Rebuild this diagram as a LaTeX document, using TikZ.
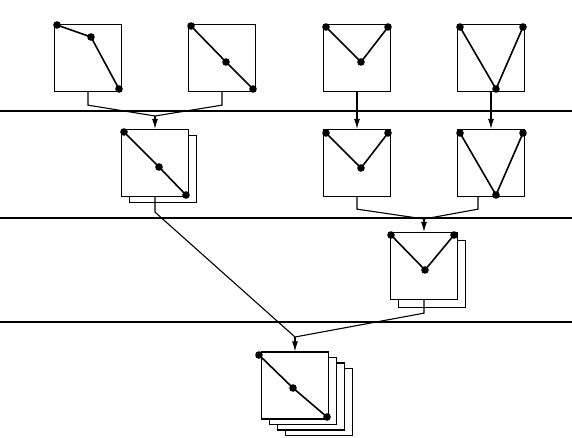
\documentclass[tikz,border=0pt]{standalone}
\usetikzlibrary{arrows.meta}

\tikzset{
  tile/.style={draw, fill=white, line width=1.3pt, minimum size=67pt, inner sep=0pt},
  wire/.style={line width=1.6pt},
  link/.style={line width=1.1pt},
  feed/.style={line width=1.1pt, -{Latex[length=10pt,width=6pt]}},
  level/.style={line width=1.1pt}
}

% polyline through three points, with a dot on each
\newcommand{\tilechain}[3]{%
  \draw[wire] (#1) -- (#2) -- (#3);
  \fill (#1) circle (3.8pt) (#2) circle (3.8pt) (#3) circle (3.8pt);}

\begin{document}
\begin{tikzpicture}
\useasboundingbox (0pt,0pt) rectangle (572pt,-438pt);

% levels
\draw[level] (0pt,-111pt) -- (572pt,-111pt);
\draw[level] (0pt,-218pt) -- (572pt,-218pt);
\draw[level] (0pt,-322pt) -- (572pt,-322pt);

% top row
\node[tile] (a) at (88pt,-58pt) {};
\node[tile] (b) at (222pt,-58pt) {};
\node[tile] (c) at (357pt,-58pt) {};
\node[tile] (d) at (491pt,-58pt) {};
\tilechain{57pt,-25pt}{91pt,-37pt}{119pt,-89pt}
\tilechain{191pt,-26pt}{226pt,-62pt}{253pt,-89pt}
\tilechain{326pt,-27pt}{361pt,-62pt}{388pt,-27pt}
\tilechain{460pt,-27pt}{496pt,-89pt}{523pt,-27pt}

% second row
\node[tile] (e1) at (163pt,-169pt) {};
\node[tile] (e) at (155pt,-163pt) {};
\node[tile] (f) at (357pt,-163pt) {};
\node[tile] (g) at (491pt,-163pt) {};
\tilechain{124pt,-132pt}{159pt,-167pt}{186pt,-195pt}
\tilechain{326pt,-133pt}{361pt,-168pt}{388pt,-133pt}
\tilechain{460pt,-133pt}{496pt,-195pt}{523pt,-133pt}

% third row
\node[tile] (h1) at (432pt,-274pt) {};
\node[tile] (h) at (424pt,-266pt) {};
\tilechain{391pt,-235pt}{425pt,-270pt}{454pt,-235pt}

% bottom row
\foreach \k in {3,2,1}
  \node[tile] (i\k) at ([shift={(8pt*\k,-5.5pt*\k)}]295pt,-385.5pt) {};
\node[tile] (i) at (295pt,-385.5pt) {};
\tilechain{259pt,-355pt}{293pt,-388pt}{327pt,-417pt}

% connectors
\coordinate (j1) at (155pt,-116pt);
\draw[link] (a.south) -- ++(0pt,-13pt) -- (j1);
\draw[link] (b.south) -- ++(0pt,-13pt) -- (j1);
\draw[feed] (j1) -- (e.north);

\draw[feed] (c.south) -- (f.north);
\draw[feed] (d.south) -- (g.north);

\coordinate (j2) at (424pt,-219pt);
\draw[link] (f.south) -- ++(0pt,-12pt) -- (j2);
\draw[link] ([xshift=-13pt]g.south) -- ++(0pt,-12pt) -- (j2);
\draw[feed] (j2) -- (h.north);

\coordinate (j3) at (295pt,-337pt);
\draw[link] (e.south) -- ++(0pt,-15pt) -- (j3);
\draw[link] (h.south) -- ++(0pt,-13pt) -- (j3);
\draw[feed] (j3) -- (i.north);
\end{tikzpicture}
\end{document}
